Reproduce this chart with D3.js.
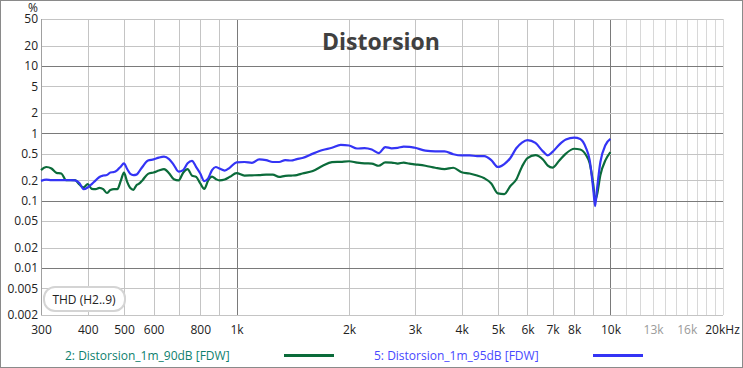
<!DOCTYPE html>
<html>
<head>
<meta charset="utf-8">
<script src="https://cdn.jsdelivr.net/npm/d3@7"></script>
<style>
  body { margin: 0; background: #fff; }
  svg { display: block; font-family: "Open Sans", "Noto Sans", sans-serif; }
</style>
</head>
<body>
<div class="chart"></div>
<script>

// frequencies (Hz) shared by both measurements
const freqs = [300, 310, 320, 330, 340, 350, 360, 370, 380, 390, 400, 410, 420, 430, 440, 450, 460, 470, 480, 490,
  500, 510, 520, 530, 540, 550, 560, 580, 600, 620, 640, 660, 680, 700, 720, 740, 760, 780, 800, 820,
  840, 860, 880, 900, 930, 960, 1000, 1050, 1100, 1150, 1200, 1250, 1300, 1350, 1400, 1450, 1500, 1600, 1700, 1800,
  1900, 2000, 2100, 2200, 2300, 2400, 2500, 2600, 2700, 2800, 2900, 3000, 3200, 3400, 3600, 3800, 4000, 4200, 4400, 4600,
  4800, 5000, 5200, 5400, 5600, 5800, 6000, 6300, 6600, 6800, 7000, 7300, 7600, 8000, 8300, 8600, 8800, 9000, 9100, 9200,
  9400, 9700, 10000];

// THD in % -- 90 dB run (green)
const thd90 = [0.285, 0.316, 0.30, 0.259, 0.253, 0.202, 0.202, 0.202, 0.174, 0.157, 0.176, 0.15, 0.148, 0.155, 0.148, 0.13, 0.144, 0.148, 0.148, 0.195,
  0.26, 0.19, 0.154, 0.145, 0.17, 0.18, 0.2, 0.25, 0.262, 0.28, 0.295, 0.256, 0.208, 0.2, 0.26, 0.295, 0.236, 0.225, 0.18, 0.15,
  0.2, 0.227, 0.21, 0.2, 0.206, 0.226, 0.256, 0.236, 0.238, 0.24, 0.244, 0.244, 0.225, 0.234, 0.236, 0.24, 0.253, 0.275, 0.33, 0.373,
  0.378, 0.385, 0.368, 0.358, 0.356, 0.33, 0.37, 0.368, 0.356, 0.368, 0.354, 0.346, 0.33, 0.308, 0.295, 0.308, 0.264, 0.253, 0.236, 0.215,
  0.18, 0.128, 0.125, 0.165, 0.206, 0.32, 0.43, 0.476, 0.41, 0.332, 0.31, 0.395, 0.5, 0.59, 0.575, 0.476, 0.36, 0.171, 0.102, 0.12,
  0.24, 0.4, 0.527];

// THD in % -- 95 dB run (blue)
const thd95 = [0.197, 0.205, 0.202, 0.202, 0.202, 0.202, 0.202, 0.2, 0.183, 0.148, 0.157, 0.176, 0.2, 0.225, 0.236, 0.24, 0.262, 0.266, 0.285, 0.32,
  0.358, 0.295, 0.25, 0.24, 0.244, 0.275, 0.316, 0.395, 0.41, 0.436, 0.45, 0.415, 0.338, 0.27, 0.285, 0.36, 0.39, 0.316, 0.253, 0.195,
  0.215, 0.285, 0.316, 0.3, 0.28, 0.31, 0.37, 0.375, 0.365, 0.41, 0.4, 0.375, 0.375, 0.4, 0.395, 0.415, 0.43, 0.5, 0.565, 0.61,
  0.675, 0.66, 0.595, 0.605, 0.575, 0.51, 0.625, 0.6, 0.61, 0.635, 0.63, 0.61, 0.555, 0.54, 0.54, 0.49, 0.47, 0.47, 0.46, 0.46,
  0.4, 0.316, 0.35, 0.43, 0.6, 0.73, 0.795, 0.72, 0.54, 0.47, 0.53, 0.68, 0.81, 0.865, 0.825, 0.61, 0.4, 0.144, 0.083, 0.144,
  0.375, 0.67, 0.825];

const xTicks = [300, 400, 500, 600, 800, 1000, 2000, 3000, 4000, 5000, 6000, 7000, 8000, 10000, 13000, 16000, 20000];
const xTickLabels = ["300", "400", "500", "600", "800", "1k", "2k", "3k", "4k", "5k", "6k", "7k", "8k", "10k", "13k", "16k", "20kHz"];
const yTicks = [50, 20, 10, 5, 2, 1, 0.5, 0.2, 0.1, 0.05, 0.02, 0.01, 0.005, 0.002];
const seriesNames = ["2: Distorsion_1m_90dB [FDW]", "5: Distorsion_1m_95dB [FDW]"];

const W = 743, H = 368;
const margin = {top: 19, right: 20, bottom: 53, left: 41};
const width = 682, height = 296;

const svg = d3.select(".chart").append("svg")
  .attr("width", W).attr("height", H);

// outer frame
svg.append("rect")
  .attr("x", 0.5).attr("y", 0.5).attr("width", W - 1).attr("height", H - 1)
  .attr("fill", "#fff").attr("stroke", "#8a8a8a");

const g = svg.append("g")
  .attr("transform", `translate(${margin.left},${margin.top})`);

const x = d3.scaleLog().domain([300, 20000]).range([0, width]);
const y = d3.scaleLog().domain([0.002, 50]).range([height, 0]);

// vertical grid
const vLines = d3.range(300, 1000, 100)
  .concat(d3.range(1000, 10000, 1000))
  .concat(d3.range(10000, 20001, 1000));
g.append("g").selectAll("line")
  .data(vLines).join("line")
  .attr("x1", d => Math.round(x(d)) + 0.5).attr("x2", d => Math.round(x(d)) + 0.5)
  .attr("y1", 0).attr("y2", height)
  .attr("stroke", d => d === 1000 || d === 10000 ? "#7a7a7a" : d > 10000 ? "#d8d8d8" : "#c4c4c4");

// horizontal grid
g.append("g").selectAll("line")
  .data(yTicks).join("line")
  .attr("x1", 0).attr("x2", width)
  .attr("y1", d => Math.round(y(d)) + 0.5).attr("y2", d => Math.round(y(d)) + 0.5)
  .attr("stroke", d => [10, 1, 0.1, 0.01].includes(d) ? "#7a7a7a" : "#c4c4c4");

// left edge
g.append("line")
  .attr("x1", 0.5).attr("x2", 0.5).attr("y1", 0).attr("y2", height)
  .attr("stroke", "#a0a0a0");

// axes (labels only)
const xAxis = d3.axisBottom(x).tickValues(xTicks)
  .tickFormat((d, i) => xTickLabels[i]).tickSize(0).tickPadding(10);
const xAxisG = g.append("g").attr("transform", `translate(0,${height})`).call(xAxis);
xAxisG.select(".domain").remove();
xAxisG.selectAll("text")
  .attr("font-size", 12).attr("font-family", "\"Open Sans\", sans-serif")
  .attr("fill", d => d === 13000 || d === 16000 ? "#9a9a9a" : "#222");
xAxisG.selectAll(".tick").filter(d => d === 20000).select("text").attr("dx", -1);

const yAxis = d3.axisLeft(y).tickValues(yTicks)
  .tickFormat(d => String(d)).tickSize(0).tickPadding(3);
const yAxisG = g.append("g").call(yAxis);
yAxisG.select(".domain").remove();
yAxisG.selectAll("text")
  .attr("font-size", 12).attr("font-family", "\"Open Sans\", sans-serif")
  .attr("fill", "#222");

// unit label above the y axis
svg.append("text")
  .attr("x", 33).attr("y", 12).attr("text-anchor", "middle")
  .attr("font-size", 12).attr("fill", "#222").text("%");

// title
svg.append("text")
  .attr("x", 381).attr("y", 50).attr("text-anchor", "middle")
  .attr("font-size", 23).attr("font-weight", "bold").attr("fill", "#404040")
  .text("Distorsion");

// curves
const line = d3.line()
  .x(d => x(d[0]))
  .y(d => y(d[1]))
  .curve(d3.curveMonotoneX);

const series = [
  {name: seriesNames[0], values: thd90, color: "#0b6b3a", text: "#0e7f6e"},
  {name: seriesNames[1], values: thd95, color: "#3434f5", text: "#4848ff"}
];

g.selectAll(".curve")
  .data(series).join("path")
  .attr("class", "curve")
  .attr("fill", "none")
  .attr("stroke", d => d.color)
  .attr("stroke-width", 2.2)
  .attr("stroke-linejoin", "round")
  .attr("d", d => line(freqs.map((f, i) => [f, d.values[i]])));

// THD box
svg.append("rect")
  .attr("x", 44).attr("y", 287).attr("width", 81).attr("height", 24).attr("rx", 11)
  .attr("fill", "#fff").attr("stroke", "#d4d4d4").attr("stroke-width", 2);
svg.append("text")
  .attr("x", 84).attr("y", 303.5).attr("text-anchor", "middle")
  .attr("font-size", 12).attr("fill", "#222").text("THD (H2..9)");

// legend
const legend = svg.selectAll(".legend")
  .data(series).join("g")
  .attr("class", "legend")
  .attr("transform", (d, i) => `translate(${i * 309},0)`);
legend.append("text")
  .attr("x", 65).attr("y", 359.5)
  .attr("font-size", 12).attr("fill", d => d.text)
  .text(d => d.name);
legend.append("line")
  .attr("x1", 284).attr("x2", 334).attr("y1", 355.5).attr("y2", 355.5)
  .attr("stroke", d => d.color).attr("stroke-width", 3);

</script>
</body>
</html>
